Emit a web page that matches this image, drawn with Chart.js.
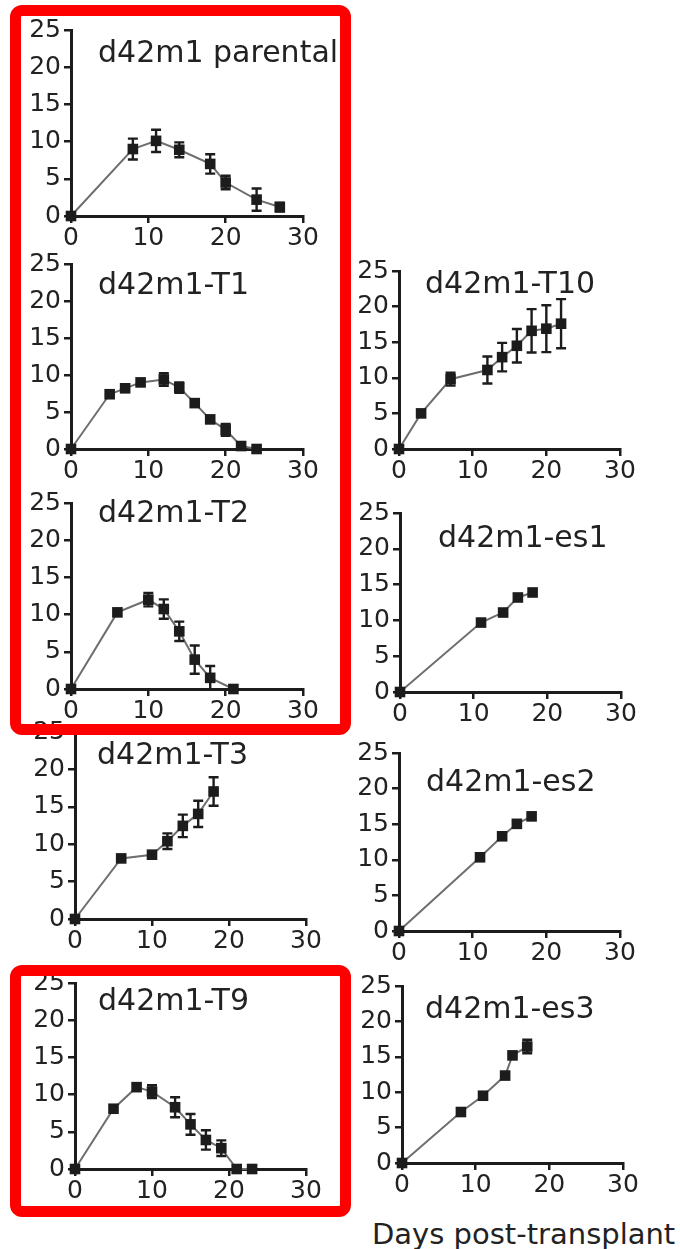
<!DOCTYPE html>
<html>
<head>
<meta charset="utf-8">
<script src="https://cdn.jsdelivr.net/npm/chart.js@4.4.0/dist/chart.umd.min.js"></script>
<style>
  html, body { margin: 0; padding: 0; background: #fff; }
  body { width: 680px; height: 1249px; position: relative; overflow: hidden; font-family: "DejaVu Sans", sans-serif; }
  canvas { position: absolute; }
  .frame { position: absolute; border: 11px solid #ff0000; border-radius: 12px; box-sizing: border-box; pointer-events: none; z-index: 5; }
  #xlabel { position: absolute; left: 372px; top: 1220px; font-size: 29px; line-height: 29px; color: #222; white-space: nowrap; }
</style>
</head>
<body>
<div class="frame" style="left:10px;top:5px;width:341px;height:730px;"></div>
<div class="frame" style="left:10px;top:965px;width:341px;height:252px;"></div>
<div id="xlabel">Days post-transplant</div>
<script>
// Tumour burden over time for the d42m1 parental line and its derivatives.
const panelNames = ["d42m1 parental", "d42m1-T1", "d42m1-T10", "d42m1-T2", "d42m1-es1", "d42m1-T3", "d42m1-es2", "d42m1-T9", "d42m1-es3"];

const parentalDays = [0, 8, 11, 14, 18, 20, 24, 27];
const parentalPct  = [0, 9.0, 10.1, 8.9, 7.0, 4.5, 2.2, 1.2];
const parentalErr  = [0, 1.4, 1.5, 1.0, 1.3, 0.9, 1.5, 0.6];

const t1Days = [0, 5, 7, 9, 12, 14, 16, 18, 20, 22, 24];
const t1Pct  = [0, 7.4, 8.2, 9.0, 9.4, 8.3, 6.2, 4.0, 2.6, 0.4, 0];
const t1Err  = [0, 0, 0, 0, 0.85, 0.7, 0, 0, 0.8, 0, 0];

const t10Days = [0, 3, 7, 12, 14, 16, 18, 20, 22];
const t10Pct  = [0, 5.0, 9.8, 11.1, 12.9, 14.5, 16.6, 16.9, 17.6];
const t10Err  = [0, 0, 0.9, 1.9, 2.0, 2.35, 3.05, 3.3, 3.45];

const t2Days = [0, 6, 10, 12, 14, 16, 18, 21];
const t2Pct  = [0, 10.3, 12.0, 10.75, 7.75, 3.95, 1.5, 0];
const t2Err  = [0, 0, 0.9, 1.3, 1.3, 1.9, 1.6, 0];

const es1Days = [0, 11, 14, 16, 18];
const es1Pct  = [0, 9.7, 11.1, 13.2, 13.9];
const es1Err  = [0, 0, 0, 0, 0];

const t3Days = [0, 6, 10, 12, 14, 16, 18];
const t3Pct  = [0, 8.1, 8.6, 10.4, 12.45, 14.05, 17.05];
const t3Err  = [0, 0, 0, 1.05, 1.5, 1.75, 1.9];

const es2Days = [0, 11, 14, 16, 18];
const es2Pct  = [0, 10.35, 13.3, 15.05, 16.1];
const es2Err  = [0, 0, 0, 0, 0];

const t9Days = [0, 5, 8, 10, 13, 15, 17, 19, 21, 23];
const t9Pct  = [0, 8.1, 11.0, 10.4, 8.3, 6.0, 3.9, 2.8, 0, 0];
const t9Err  = [0, 0, 0, 0.85, 1.35, 1.4, 1.3, 1.05, 0, 0];

const es3Days = [0, 8, 11, 14, 15, 17];
const es3Pct  = [0, 7.2, 9.5, 12.35, 15.2, 16.45];
const es3Err  = [0, 0, 0, 0, 0, 0.95];

const xTickValues = [0, 10, 20, 30];
const yTickValues = [0, 5, 10, 15, 20, 25];

Chart.defaults.font.family = '"DejaVu Sans", sans-serif';
Chart.defaults.color = '#222';

const INK = '#1c1c1c';

// vertical error bars with caps
const errorBars = {
  id: 'errorBars',
  afterDatasetsDraw(chart) {
    const { ctx, scales: { x, y } } = chart;
    chart.data.datasets.forEach(ds => {
      const errs = ds.errors || [];
      ctx.save();
      ctx.strokeStyle = INK;
      ctx.lineWidth = 2.4;
      ds.data.forEach((p, i) => {
        const e = errs[i];
        if (!e) return;
        const px = x.getPixelForValue(p.x);
        const top = y.getPixelForValue(p.y + e);
        const bot = y.getPixelForValue(Math.max(p.y - e, 0));
        ctx.beginPath();
        ctx.moveTo(px, top); ctx.lineTo(px, bot);
        ctx.moveTo(px - 5, top); ctx.lineTo(px + 5, top);
        if (p.y - e > 0) { ctx.moveTo(px - 5, bot); ctx.lineTo(px + 5, bot); }
        ctx.stroke();
      });
      ctx.restore();
    });
  }
};

// panel name written inside the plot area
const panelTitle = {
  id: 'panelTitle',
  afterDraw(chart, args, opts) {
    const ctx = chart.ctx;
    ctx.save();
    ctx.font = '30px "DejaVu Sans", sans-serif';
    ctx.fillStyle = '#222';
    ctx.textAlign = 'left';
    ctx.textBaseline = 'alphabetic';
    ctx.fillText(opts.text, opts.x, opts.y);
    ctx.restore();
  }
};

const Y_W = 50, X_H = 42, PAD_T = 18, PAD_R = 45;

function makePanel(name, days, pct, err, box, titlePos) {
  const L = Math.round(box[0]), T = Math.round(box[1]), R = Math.round(box[2]), B = Math.round(box[3]);
  const left = L - Y_W, top = T - PAD_T;
  const width = R - L + Y_W + PAD_R;
  const height = B - T + PAD_T + X_H;
  const cv = document.createElement('canvas');
  cv.width = width; cv.height = height;
  cv.style.left = left + 'px'; cv.style.top = top + 'px';
  cv.style.width = width + 'px'; cv.style.height = height + 'px';
  document.body.appendChild(cv);

  const tickFont = { size: 25 };
  new Chart(cv, {
    type: 'scatter',
    data: {
      datasets: [{
        data: days.map((d, i) => ({ x: d, y: pct[i] })),
        errors: err,
        showLine: true,
        borderColor: '#6e6e6e',
        borderWidth: 2,
        pointStyle: 'rect',
        pointRadius: 7.5,
        pointBackgroundColor: INK,
        pointBorderColor: INK,
        pointBorderWidth: 0,
        clip: false
      }]
    },
    options: {
      responsive: false,
      animation: false,
      devicePixelRatio: 1,
      events: [],
      layout: { padding: { left: 0, top: PAD_T, right: PAD_R, bottom: 0 } },
      plugins: {
        legend: { display: false },
        tooltip: { enabled: false },
        panelTitle: { text: name, x: titlePos[0] - left, y: titlePos[1] - top }
      },
      scales: {
        x: {
          type: 'linear', min: 0, max: 30,
          afterFit(s) { s.height = X_H; },
          afterBuildTicks(s) { s.ticks = xTickValues.map(v => ({ value: v })); },
          ticks: { font: tickFont, padding: 0, color: '#222', maxRotation: 0 },
          grid: { drawOnChartArea: false, drawTicks: true, tickLength: 7, lineWidth: 2.5, color: INK },
          border: { display: true, color: INK, width: 3 }
        },
        y: {
          min: 0, max: 25,
          afterFit(s) { s.width = Y_W; },
          afterBuildTicks(s) { s.ticks = yTickValues.map(v => ({ value: v })); },
          ticks: { font: tickFont, padding: 3, color: '#222' },
          grid: { drawOnChartArea: false, drawTicks: true, tickLength: 7, lineWidth: 2.5, color: INK },
          border: { display: true, color: INK, width: 3 }
        }
      }
    },
    plugins: [errorBars, panelTitle]
  });
}

makePanel(panelNames[0], parentalDays, parentalPct, parentalErr, [71, 30, 303, 216], [98, 62]);
makePanel(panelNames[1], t1Days, t1Pct, t1Err, [71, 264, 303, 449], [98, 294]);
makePanel(panelNames[2], t10Days, t10Pct, t10Err, [399, 271, 620, 449], [425, 293]);
makePanel(panelNames[3], t2Days, t2Pct, t2Err, [71, 503, 303, 689], [98, 522]);
makePanel(panelNames[4], es1Days, es1Pct, es1Err, [400, 513, 621, 692], [438, 547]);
makePanel(panelNames[5], t3Days, t3Pct, t3Err, [75, 732, 306, 919], [97, 764]);
makePanel(panelNames[6], es2Days, es2Pct, es2Err, [399, 753, 620, 931], [426, 791]);
makePanel(panelNames[7], t9Days, t9Pct, t9Err, [75, 983, 306, 1169], [98, 1010]);
makePanel(panelNames[8], es3Days, es3Pct, es3Err, [402, 986, 623, 1163], [425, 1018]);
</script>
</body>
</html>
